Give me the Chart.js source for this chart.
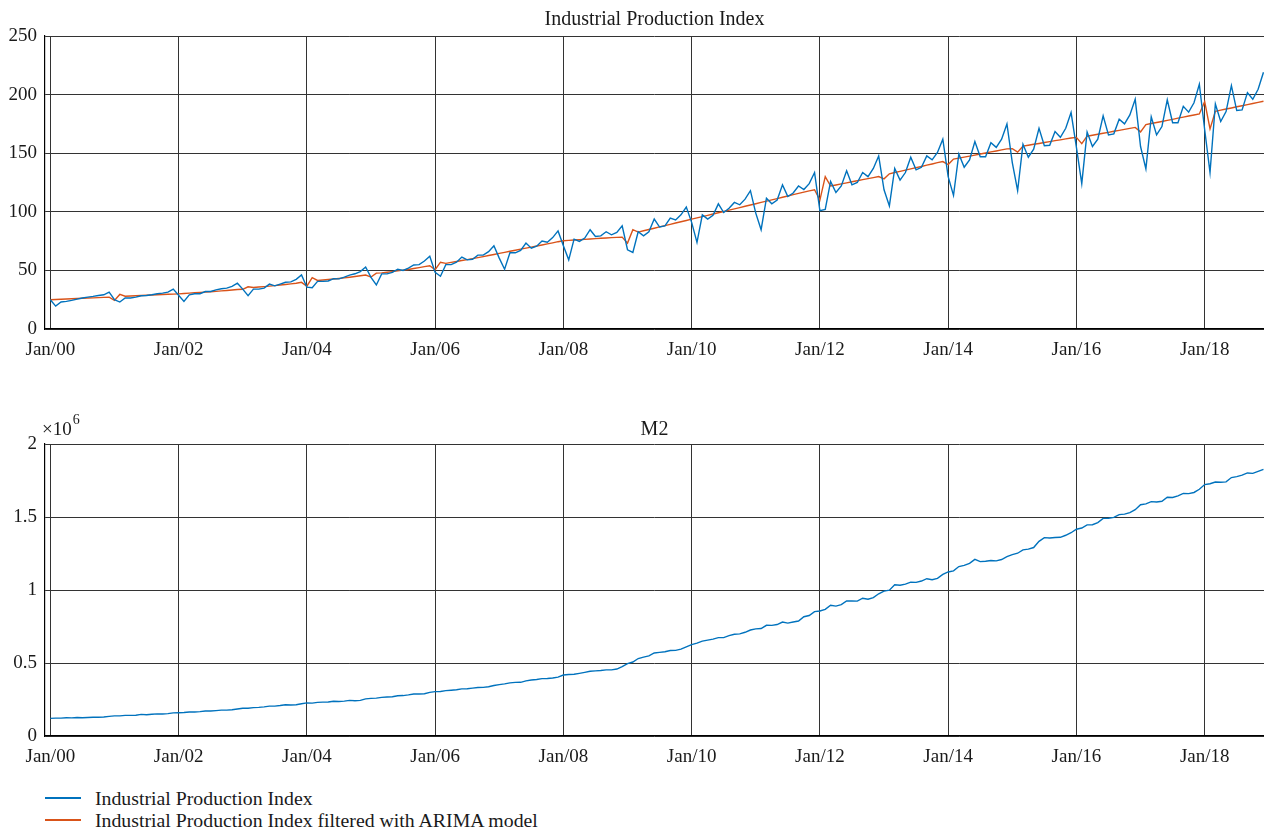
<!DOCTYPE html>
<html>
<head>
<meta charset="utf-8">
<title>Industrial Production Index and M2</title>
<script src="https://cdn.jsdelivr.net/npm/chart.js@4.4.1/dist/chart.umd.min.js"></script>
<style>
  html, body { margin: 0; padding: 0; background: #ffffff; }
  body {
    width: 1264px; height: 836px; position: relative; overflow: hidden;
    font-family: "Liberation Serif", "Times New Roman", serif; color: #1a1a1a;
  }
  canvas { position: absolute; left: 0; }
  #ipiCanvas { top: 0; }
  #m2Canvas { top: 400px; }
  .legend-row { position: absolute; left: 0; height: 0; }
  .legend-row .swatch { position: absolute; left: 45px; top: -1px; width: 36px; height: 1.5px; }
  .legend-row .label { position: absolute; left: 95px; top: -12px; line-height: 24px; font-size: 19.8px; white-space: nowrap; }
</style>
</head>
<body>
<canvas id="ipiCanvas" width="1264" height="372"></canvas>
<canvas id="m2Canvas" width="1264" height="372"></canvas>
<div class="legend-row" style="top:798px"><div class="swatch" style="background:#0072BD"></div><div class="label">Industrial Production Index</div></div>
<div class="legend-row" style="top:820px"><div class="swatch" style="background:#D95319"></div><div class="label">Industrial Production Index filtered with ARIMA model</div></div>
<script>
// Monthly series, January 2000 to December 2018 (one row per year)
const ipiActual = [
  25.0, 19.5, 23.0, 23.6, 24.4, 25.5, 26.4, 27.2, 27.8, 28.6, 29.2, 31.4,
  25.0, 23.0, 26.4, 26.4, 27.2, 28.4, 28.6, 29.2, 30.1, 30.6, 31.4, 34.0,
  28.8, 23.6, 29.2, 30.1, 30.1, 32.0, 32.0, 33.4, 34.3, 34.9, 36.3, 39.1,
  34.0, 28.4, 34.0, 34.0, 34.9, 38.3, 36.8, 38.3, 39.9, 40.2, 42.4, 46.2,
  35.7, 35.2, 40.6, 40.6, 41.0, 43.0, 42.8, 44.3, 46.0, 47.1, 49.0, 52.9,
  44.0, 37.6, 47.0, 47.0, 48.3, 51.0, 50.0, 52.0, 54.6, 54.9, 58.0, 62.0,
  48.3, 45.0, 54.9, 54.9, 57.0, 61.4, 59.0, 59.5, 63.0, 63.0, 66.0, 71.0,
  60.5, 51.0, 65.0, 65.0, 67.0, 73.4, 69.0, 70.6, 75.0, 74.0, 78.0, 83.7,
  71.0, 59.0, 76.7, 74.7, 77.6, 84.7, 79.0, 79.5, 83.0, 80.4, 82.4, 88.0,
  67.6, 65.3, 83.0, 79.5, 83.0, 93.8, 87.0, 88.0, 94.6, 93.0, 97.4, 104.0,
  91.0, 73.9, 97.4, 93.8, 97.0, 106.8, 99.4, 103.0, 108.0, 106.0, 110.8, 118.0,
  98.9, 84.7, 111.6, 106.8, 110.0, 123.0, 113.0, 116.0, 122.0, 119.0, 124.0, 133.5,
  101.0, 102.0, 125.9, 116.5, 122.0, 135.0, 123.0, 125.0, 133.5, 130.0, 137.0, 147.7,
  118.8, 105.0, 137.0, 127.0, 133.5, 146.6, 135.8, 138.0, 147.7, 144.3, 150.6, 162.0,
  130.0, 114.0, 149.4, 138.0, 144.3, 160.0, 147.0, 147.0, 159.0, 155.0, 162.0, 175.0,
  142.0, 118.0, 157.7, 146.6, 153.4, 171.3, 156.3, 156.8, 168.5, 163.6, 171.3, 184.7,
  155.0, 124.0, 168.0, 155.7, 162.0, 181.8, 165.6, 166.5, 179.0, 175.0, 182.7, 196.0,
  155.7, 136.6, 181.0, 165.6, 172.7, 195.5, 176.0, 176.0, 190.0, 185.0, 193.0, 208.8,
  170.0, 133.5, 192.0, 177.0, 185.5, 207.7, 186.4, 187.0, 201.7, 196.0, 204.5, 219.0
];

const ipiArima = [
  25.0, 25.2, 25.4, 25.6, 25.8, 26.0, 26.2, 26.4, 26.6, 26.8, 27.0, 27.2,
  24.4, 29.5, 28.0, 28.2, 28.4, 28.6, 28.8, 29.0, 29.2, 29.4, 29.6, 29.8,
  30.0, 30.3, 30.6, 30.9, 31.2, 31.5, 31.8, 32.1, 32.5, 32.9, 33.3, 33.7,
  33.9, 36.0, 35.4, 35.8, 36.2, 36.6, 37.0, 37.5, 38.0, 38.5, 39.0, 39.8,
  36.5, 43.8, 41.4, 41.8, 42.2, 42.7, 43.1, 43.6, 44.2, 44.8, 45.4, 46.0,
  44.3, 47.7, 47.9, 48.4, 49.0, 49.6, 50.2, 50.8, 51.6, 52.4, 53.2, 54.0,
  50.6, 57.0, 56.0, 56.8, 57.6, 58.4, 59.2, 60.0, 60.9, 61.8, 62.7, 63.6,
  64.5, 65.4, 66.3, 67.2, 68.1, 69.0, 69.9, 70.8, 71.7, 72.6, 73.5, 74.5,
  75.3, 75.6, 75.9, 76.2, 76.5, 76.8, 77.1, 77.4, 77.7, 78.0, 78.2, 78.4,
  73.3, 84.7, 82.7, 83.8, 84.9, 86.0, 87.1, 88.2, 89.3, 90.4, 91.5, 92.6,
  93.7, 94.8, 95.9, 97.0, 98.1, 99.2, 100.3, 101.4, 102.5, 103.6, 104.7, 105.8,
  106.9, 108.0, 109.1, 110.2, 111.3, 112.4, 113.5, 114.6, 115.7, 116.8, 117.8, 118.8,
  110.0, 130.0, 122.0, 122.9, 123.8, 124.7, 125.6, 126.5, 127.4, 128.3, 129.2, 130.1,
  128.1, 132.4, 133.5, 134.5, 135.6, 136.6, 137.7, 138.7, 139.8, 140.8, 141.9, 142.9,
  140.3, 145.0, 145.8, 146.7, 147.5, 148.4, 149.3, 150.2, 151.1, 151.9, 152.8, 153.7,
  153.9, 150.9, 156.0, 156.8, 157.6, 158.3, 159.1, 159.9, 160.7, 161.4, 162.2, 163.0,
  163.5, 158.2, 164.5, 165.3, 166.2, 167.0, 167.8, 168.7, 169.5, 170.3, 171.2, 172.0,
  168.2, 174.4, 175.3, 176.2, 177.1, 178.0, 178.9, 179.9, 180.8, 181.7, 182.6, 183.5,
  194.0, 170.7, 185.8, 186.7, 187.7, 188.6, 189.6, 190.5, 191.5, 192.4, 193.4, 194.3
];

const m2Supply = [
  121000, 122500, 122600, 124500, 124300, 126600, 125400, 127000, 128900, 128000, 130000, 134610,
  137500, 138000, 141400, 141300, 142600, 147800, 146000, 148500, 151300, 150300, 152900, 158302,
  159600, 160900, 164100, 164800, 167000, 170900, 171300, 174100, 176900, 177300, 179800, 185007,
  190500, 190100, 194500, 196100, 199500, 204900, 204300, 208500, 213600, 212800, 214500, 221223,
  227100, 225000, 230300, 231700, 232700, 238400, 236800, 239000, 243800, 241900, 244000, 254107,
  257700, 259400, 264600, 266900, 269100, 275800, 276900, 281300, 287400, 287600, 289600, 298756,
  303600, 304500, 310500, 313700, 316700, 322800, 324000, 327600, 331900, 332700, 337500, 345604,
  351500, 356800, 364100, 367300, 367800, 377800, 383900, 387200, 393100, 394200, 397000, 403442,
  417800, 421000, 423000, 429300, 436200, 443100, 446400, 448800, 452900, 453100, 458600, 475167,
  496100, 506700, 530600, 540500, 548300, 568900, 573100, 576700, 585400, 586600, 594600, 610225,
  625600, 636100, 649900, 656600, 663400, 673900, 674100, 687500, 696500, 699800, 710300, 725852,
  733900, 736100, 758100, 757400, 763400, 780800, 772900, 780900, 787400, 816800, 825500, 851591,
  855900, 867200, 895600, 889600, 900000, 924500, 925500, 924000, 943700, 936400, 947500, 974149,
  992100, 998600, 1035900, 1032600, 1040000, 1054000, 1052200, 1061300, 1077400, 1070200, 1079300, 1106525,
  1123500, 1131300, 1160700, 1168200, 1182300, 1209600, 1194100, 1197400, 1202100, 1199200, 1208800, 1228375,
  1242800, 1251900, 1275300, 1280000, 1290800, 1333400, 1358800, 1356100, 1359800, 1361000, 1374900, 1392278,
  1416300, 1424600, 1446200, 1447000, 1461400, 1490500, 1491600, 1497100, 1516400, 1519500, 1530400, 1550067,
  1584000, 1590000, 1605000, 1603000, 1608000, 1635000, 1634000, 1645000, 1662000, 1660000, 1668000, 1690000,
  1722100, 1727900, 1739600, 1737700, 1740600, 1770200, 1776700, 1786500, 1801700, 1798700, 1812500, 1826744
];

// Axis ticks: x counts months since January 2000
const xTickMonths = [0, 24, 48, 72, 96, 120, 144, 168, 192, 216];
const xTickLabels = ['Jan/00', 'Jan/02', 'Jan/04', 'Jan/06', 'Jan/08', 'Jan/10', 'Jan/12', 'Jan/14', 'Jan/16', 'Jan/18'];
const ipiTicks = [0, 50, 100, 150, 200, 250];
const m2Ticks = [0, 500000, 1000000, 1500000, 2000000];
const m2TickLabels = ['0', '0.5', '1', '1.5', '2'];

const FONT = '"Liberation Serif", "Times New Roman", serif';
const TEXT = '#1a1a1a';
const GRID = '#333333';
const BLUE = '#0072BD';
const ORANGE = '#D95319';

const toPoints = arr => arr.map((v, i) => ({ x: i, y: v }));

function axes(yTicks, yLabels, yMax, xHeight) {
  return {
    x: {
      type: 'linear', min: -1, max: 227.1,
      afterBuildTicks: s => { s.ticks = xTickMonths.map(v => ({ value: v })); },
      afterFit: s => { s.height = xHeight; },
      ticks: {
        autoSkip: false, maxRotation: 0, padding: 10, color: TEXT,
        font: { family: FONT, size: 19 },
        callback: (v, i) => xTickLabels[i]
      },
      grid: { color: GRID, lineWidth: 1, drawTicks: false },
      border: { display: true, color: '#000000', width: 1.2 }
    },
    y: {
      min: 0, max: yMax,
      afterBuildTicks: s => { s.ticks = yTicks.map(v => ({ value: v })); },
      afterFit: s => { s.width = 45; },
      ticks: {
        padding: 8, color: TEXT,
        font: { family: FONT, size: 19 },
        callback: (v, i) => yLabels[i]
      },
      grid: { color: GRID, lineWidth: 1, drawTicks: false },
      border: { display: true, color: '#000000', width: 1.2 }
    }
  };
}

function lineSet(label, values, color) {
  return {
    label, data: toPoints(values), borderColor: color, backgroundColor: color,
    borderWidth: 1.4, pointRadius: 0, tension: 0, fill: false
  };
}

function titleOptions(text, padTop, padBottom) {
  return {
    display: true, text, color: TEXT, fullSize: false,
    font: { family: FONT, size: 20, weight: 'normal', lineHeight: 1.2 },
    padding: { top: padTop, bottom: padBottom }
  };
}

// Exponent label for the M2 axis: ×10^6
const exponentLabel = {
  id: 'exponentLabel',
  afterDraw(chart) {
    const ctx = chart.ctx;
    ctx.save();
    ctx.fillStyle = TEXT;
    ctx.textBaseline = 'middle';
    ctx.textAlign = 'left';
    ctx.font = '19px ' + FONT;
    ctx.fillText('\u00d710', 42, 30);
    const w = ctx.measureText('\u00d710').width;
    ctx.font = '14px ' + FONT;
    ctx.fillText('6', 42 + w + 1, 20);
    ctx.restore();
  }
};

new Chart(document.getElementById('ipiCanvas'), {
  type: 'line',
  data: {
    datasets: [
      lineSet('Industrial Production Index', ipiActual, BLUE),
      lineSet('Industrial Production Index filtered with ARIMA model', ipiArima, ORANGE)
    ]
  },
  options: {
    responsive: false, animation: false, events: [],
    layout: { padding: 0 },
    plugins: {
      legend: { display: false },
      tooltip: { enabled: false },
      title: titleOptions('Industrial Production Index', 8, 4)
    },
    scales: axes(ipiTicks, ipiTicks.map(String), 250, 43)
  }
});

new Chart(document.getElementById('m2Canvas'), {
  type: 'line',
  data: { datasets: [lineSet('M2', m2Supply, BLUE)] },
  options: {
    responsive: false, animation: false, events: [],
    layout: { padding: 0 },
    plugins: {
      legend: { display: false },
      tooltip: { enabled: false },
      title: titleOptions('M2', 18, 2)
    },
    scales: axes(m2Ticks, m2TickLabels, 2000000, 36)
  },
  plugins: [exponentLabel]
});
</script>
</body>
</html>
